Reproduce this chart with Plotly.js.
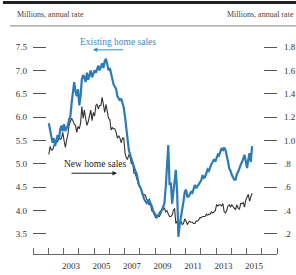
<!DOCTYPE html>
<html><head><meta charset="utf-8">
<script src="https://cdn.plot.ly/plotly-3.0.1.min.js"></script>
<style>html,body{margin:0;padding:0;background:#fff;}#chart{width:296px;height:275px;}</style>
</head><body><div id="chart"></div>
<script>
// Monthly data, January 2002 through May 2015
const startYear = 2002;

// Existing home sales, millions, annual rate (left scale)
const existingHomeSales = [
  5.87, 5.72, 5.58, 5.45, 5.55, 5.38, 5.50, 5.62, 5.52, 5.74, 5.82, 5.70,
  5.85, 5.70, 5.76, 5.82, 5.95, 6.02, 6.30, 6.55, 6.75, 6.55, 6.45, 6.60,
  6.25, 6.45, 6.80, 6.90, 6.85, 6.75, 6.95, 6.80, 6.90, 7.00, 6.85, 6.95,
  7.00, 6.95, 7.05, 7.10, 7.00, 7.10, 7.15, 7.05, 7.20, 7.25, 7.10, 7.00,
  7.05, 6.90, 6.80, 6.70, 6.65, 6.60, 6.45, 6.40, 6.35, 6.40, 6.30, 6.20,
  6.00, 5.75, 5.45, 5.30, 5.20, 5.10, 5.00, 4.95, 4.85, 4.80, 4.65, 4.55,
  4.50, 4.40, 4.29, 4.25, 4.20, 4.16, 4.20, 4.23, 4.15, 4.10, 4.00, 3.95,
  3.90, 3.86, 3.90, 3.95, 3.98, 4.01, 4.10, 4.16, 4.50, 4.85, 5.40, 4.55,
  4.60, 4.15, 4.40, 4.70, 4.87, 4.40, 3.44, 3.70, 3.85, 3.97, 4.20, 4.40,
  4.45, 4.30, 4.30, 4.35, 4.40, 4.38, 4.45, 4.55, 4.48, 4.52, 4.55, 4.60,
  4.65, 4.76, 4.70, 4.72, 4.82, 4.88, 4.85, 4.95, 5.00, 5.04, 5.10, 5.05,
  5.15, 5.20, 5.18, 5.25, 5.34, 5.28, 5.35, 5.30, 5.20, 5.05, 4.90, 4.85,
  4.76, 4.70, 4.66, 4.66, 4.78, 4.83, 4.92, 4.98, 5.04, 5.10, 5.19, 5.05,
  4.91, 5.10, 5.23, 5.04, 5.38
];

// New home sales, millions, annual rate (right scale)
const newHomeSales = [
  0.88, 0.95, 0.92, 0.92, 0.95, 0.99, 1.00, 0.99, 1.03, 1.01, 1.02, 1.07,
  1.00, 0.94, 1.00, 1.05, 1.13, 1.16, 1.19, 1.17, 1.14, 1.13, 1.07, 1.12,
  1.10, 1.15, 1.29, 1.19, 1.26, 1.19, 1.13, 1.16, 1.23, 1.26, 1.17, 1.24,
  1.21, 1.30, 1.31, 1.27, 1.30, 1.30, 1.37, 1.28, 1.24, 1.31, 1.25, 1.19,
  1.18, 1.09, 1.11, 1.10, 1.10, 1.07, 1.02, 1.04, 1.02, 0.98, 1.02, 1.02,
  0.89, 0.85, 0.84, 0.88, 0.86, 0.80, 0.82, 0.72, 0.72, 0.69, 0.65, 0.61,
  0.60, 0.57, 0.54, 0.54, 0.53, 0.50, 0.48, 0.45, 0.46, 0.40, 0.39, 0.37,
  0.34, 0.35, 0.35, 0.35, 0.37, 0.40, 0.41, 0.42, 0.39, 0.40, 0.37, 0.35,
  0.35, 0.36, 0.40, 0.42, 0.29, 0.31, 0.28, 0.29, 0.31, 0.28, 0.29, 0.33,
  0.31, 0.28, 0.30, 0.31, 0.30, 0.30, 0.29, 0.29, 0.31, 0.31, 0.32, 0.34,
  0.34, 0.35, 0.35, 0.35, 0.37, 0.36, 0.37, 0.37, 0.39, 0.38, 0.39, 0.40,
  0.45, 0.44, 0.45, 0.45, 0.44, 0.46, 0.39, 0.38, 0.40, 0.44, 0.45, 0.43,
  0.45, 0.43, 0.42, 0.41, 0.45, 0.42, 0.41, 0.46, 0.46, 0.47, 0.43, 0.49,
  0.52, 0.54, 0.48, 0.51, 0.55
];

const yearLabels = ['2003', '2005', '2007', '2009', '2011', '2013', '2015'];
const leftTickVals = [3.5, 4.0, 4.5, 5.0, 5.5, 6.0, 6.5, 7.0, 7.5];
const leftTickText = ['3.5', '4.0', '4.5', '5.0', '5.5', '6.0', '6.5', '7.0', '7.5'];
const rightTickVals = [0.2, 0.4, 0.6, 0.8, 1.0, 1.2, 1.4, 1.6, 1.8];
const rightTickText = ['.2', '.4', '.6', '.8', '1.0', '1.2', '1.4', '1.6', '1.8'];
const unitsLabel = 'Millions, annual rate';
const existingLabel = 'Existing home sales';
const newLabel = 'New home sales';

const months = existingHomeSales.map((_, i) => {
  const y = startYear + Math.floor(i / 12);
  const m = (i % 12) + 1;
  return y + '-' + String(m).padStart(2, '0') + '-15';
});

const serif = '"Liberation Serif", "Times New Roman", serif';
const blue = '#2b7bb9';
const dark = '#333333';

const traces = [
  { x: months, y: newHomeSales, yaxis: 'y', type: 'scatter', mode: 'lines',
    line: { color: '#333333', width: 1.1 }, hoverinfo: 'skip' },
  { x: months, y: existingHomeSales, yaxis: 'y2', type: 'scatter', mode: 'lines',
    line: { color: blue, width: 2.2 }, hoverinfo: 'skip' }
];

const layout = {
  width: 296, height: 275,
  margin: { l: 33, r: 19, t: 30, b: 21, pad: 0 },
  paper_bgcolor: '#ffffff', plot_bgcolor: '#ffffff',
  showlegend: false,
  font: { family: serif, size: 9, color: dark },
  xaxis: {
    type: 'date', range: ['2001-01-01', '2017-01-01'],
    tickmode: 'array', tickvals: yearLabels.map(y => y + '-07-01'), ticktext: yearLabels,
    ticks: '', showgrid: false, zeroline: false,
    showline: true, linecolor: '#666', linewidth: 1, ticklabelstandoff: 3,
    tickfont: { family: serif, size: 9, color: dark },
    minor: { ticks: 'inside', ticklen: 6, tickcolor: '#666', tickwidth: 1,
             dtick: 'M12', tick0: '2001-01-01', showgrid: false }
  },
  yaxis: {
    side: 'right', range: [0.0288, 1.9456],
    tickmode: 'array', tickvals: rightTickVals, ticktext: rightTickText,
    ticks: 'inside', ticklen: 13, tickcolor: '#555', tickwidth: 1,
    showline: false, showgrid: false, zeroline: false, ticklabelstandoff: 6,
    tickfont: { family: serif, size: 9, color: dark }
  },
  yaxis2: {
    overlaying: 'y', side: 'left', range: [3.072, 7.864],
    tickmode: 'array', tickvals: leftTickVals, ticktext: leftTickText,
    ticks: 'inside', ticklen: 13, tickcolor: '#555', tickwidth: 1,
    showline: false, showgrid: false, zeroline: false, ticklabelstandoff: 5,
    tickfont: { family: serif, size: 9, color: dark }
  },
  shapes: [
    { type: 'line', xref: 'paper', yref: 'paper', x0: -0.123, x1: 1.09, y0: 1.123, y1: 1.123,
      line: { color: '#222', width: 3 } },
    { type: 'line', xref: 'paper', yref: 'paper', x0: -0.094, x1: 1.09, y0: 1.018, y1: 1.018,
      line: { color: '#999', width: 1.2 } }
  ],
  annotations: [
    { xref: 'paper', yref: 'paper', x: -0.0738, y: 1.067, xanchor: 'left', yanchor: 'middle',
      text: unitsLabel, showarrow: false, font: { family: serif, size: 8, color: '#444' } },
    { xref: 'paper', yref: 'paper', x: 1.078, y: 1.067, xanchor: 'right', yanchor: 'middle',
      text: unitsLabel, showarrow: false, font: { family: serif, size: 8, color: '#444' } },
    { xref: 'x', yref: 'y2', x: '2006-07-27', y: 7.61, xanchor: 'center', yanchor: 'middle',
      text: existingLabel, showarrow: false, font: { family: serif, size: 9.5, color: '#3d8bc0' } },
    { xref: 'x', yref: 'y2', x: '2004-12-05', y: 7.44, axref: 'x', ayref: 'y2',
      ax: '2007-01-10', ay: 7.44, text: '', showarrow: true, arrowhead: 2, arrowsize: 0.9,
      arrowwidth: 1, arrowcolor: '#3d8bc0' },
    { xref: 'x', yref: 'y2', x: '2005-01-25', y: 5.0, xanchor: 'center', yanchor: 'middle',
      text: newLabel, showarrow: false, font: { family: serif, size: 9.5, color: '#222' } },
    { xref: 'x', yref: 'y2', x: '2006-07-05', y: 4.80, axref: 'x', ayref: 'y2',
      ax: '2003-06-06', ay: 4.80, text: '', showarrow: true, arrowhead: 2, arrowsize: 0.9,
      arrowwidth: 1, arrowcolor: '#222' }
  ]
};

Plotly.newPlot('chart', traces, layout, { staticPlot: true, displayModeBar: false });
</script>
</body></html>
